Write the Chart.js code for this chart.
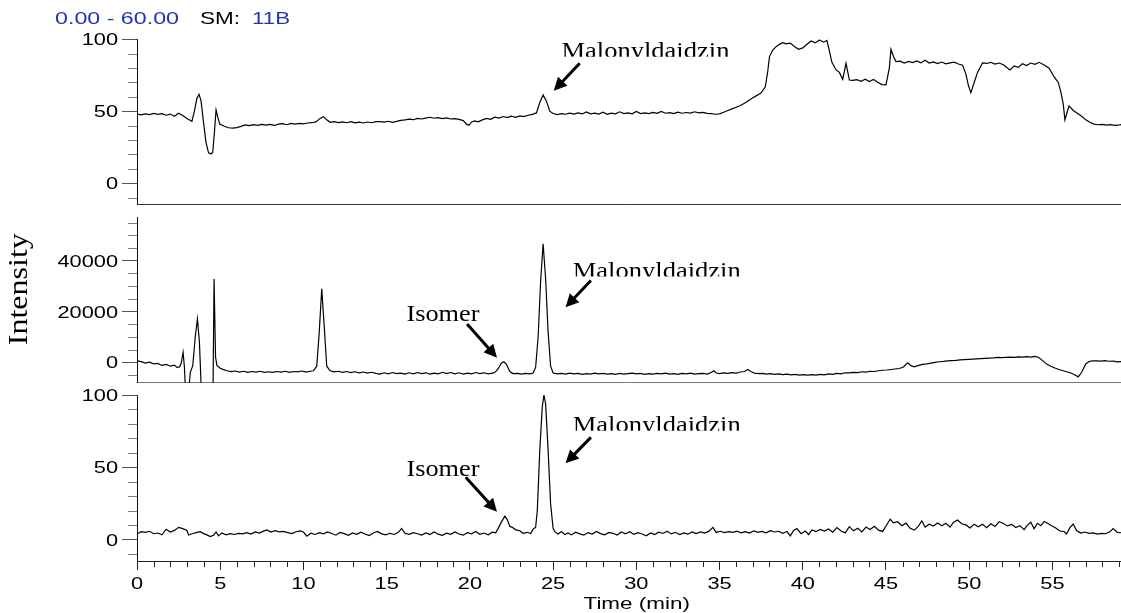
<!DOCTYPE html>
<html>
<head>
<meta charset="utf-8">
<title>Malonyldaidzin chromatograms</title>
<script src="https://cdn.jsdelivr.net/npm/chart.js@4.4.1/dist/chart.umd.min.js"></script>
<style>
  html, body { margin: 0; padding: 0; background: #fff; }
  #wrap { position: relative; width: 1121px; height: 613px; }
  #wrap canvas { position: absolute; left: 0; top: 0; }
</style>
</head>
<body>
<div id="wrap">
  <canvas id="top" width="1121" height="613"></canvas>
  <canvas id="mid" width="1121" height="613"></canvas>
  <canvas id="low" width="1121" height="613"></canvas>
</div>
<script>
// time (min), relative abundance - top trace (SM: 11B)
const upperTrace = [
  [0, 48], [0.25, 47.5], [0.5, 48.2], [0.75, 47.6], [1.0, 48.5], [1.25, 47.8], [1.5, 48.3], [1.75, 47.2], [2.0, 48], [2.25, 46.5],
  [2.5, 48.6], [2.75, 47], [3.0, 45], [3.3, 43], [3.45, 50], [3.6, 59], [3.73, 61.8], [3.85, 57], [4.0, 42], [4.15, 28],
  [4.3, 21], [4.45, 20.3], [4.55, 21.5], [4.65, 35], [4.75, 50.9], [4.85, 46], [4.97, 41], [5.25, 39.5], [5.5, 38.5], [5.75, 38.2],
  [6.0, 38.6], [6.25, 39.5], [6.5, 40.5], [6.75, 40], [7.0, 40.6], [7.25, 40.2], [7.5, 40.8], [7.75, 40.3], [8.0, 40.9], [8.25, 40.1],
  [8.5, 41], [8.75, 41.3], [9.0, 40.6], [9.25, 41.5], [9.5, 41], [9.75, 41.6], [10.0, 41.2], [10.25, 41.8], [10.5, 42], [10.75, 42.6],
  [11.0, 45], [11.2, 46.2], [11.4, 44], [11.6, 42.3], [11.85, 42.8], [12.1, 42.1], [12.35, 42.6], [12.6, 42], [12.85, 42.7], [13.1, 41.9],
  [13.35, 42.4], [13.6, 41.8], [13.85, 42.5], [14.1, 42], [14.35, 42.8], [14.6, 42.8], [14.85, 42.4], [15.1, 43], [15.35, 42.3], [15.6, 42.9],
  [15.85, 43.6], [16.1, 44], [16.35, 44.5], [16.6, 44.1], [16.85, 45], [17.1, 44.6], [17.35, 45.2], [17.6, 45.8], [17.85, 45.1], [18.1, 45.5],
  [18.35, 44.8], [18.6, 45.3], [18.85, 44.6], [19.1, 44.9], [19.35, 44.3], [19.6, 43.5], [19.8, 41], [19.95, 40.2], [20.1, 42.5], [20.3, 43.2],
  [20.5, 42.6], [20.75, 44], [21.0, 45], [21.25, 44.4], [21.5, 45.8], [21.75, 45.2], [22.0, 46.3], [22.25, 45.6], [22.5, 46.5], [22.75, 45.8],
  [23.0, 46.8], [23.25, 46.2], [23.5, 47.2], [23.75, 47.8], [24.0, 48.8], [24.2, 56], [24.4, 61.3], [24.6, 57], [24.8, 50], [25.0, 48.4],
  [25.25, 47.6], [25.5, 48.3], [25.75, 47.9], [26.0, 48.6], [26.25, 48], [26.5, 48.8], [26.75, 48.1], [27.0, 49.5], [27.25, 48.2], [27.5, 48.7],
  [27.75, 48], [28.0, 49.3], [28.25, 47.8], [28.5, 48.6], [28.75, 48.2], [29.0, 49.6], [29.25, 48.3], [29.5, 48.9], [29.75, 48.2], [30.0, 49.8],
  [30.25, 48.4], [30.5, 48.9], [30.75, 48.3], [31.0, 49.2], [31.25, 48.5], [31.5, 49.8], [31.75, 48.6], [32.0, 49], [32.25, 48.3], [32.5, 49.4],
  [32.75, 48.6], [33.0, 49.1], [33.25, 48.7], [33.5, 49.6], [33.75, 48.8], [34.0, 49.2], [34.25, 48.5], [34.5, 48.3], [34.75, 47.9], [35.0, 48.2],
  [35.25, 49.3], [35.5, 50.5], [35.75, 51.6], [36.0, 52.8], [36.25, 54], [36.5, 55.5], [36.75, 57.5], [37.0, 59.3], [37.25, 61], [37.5, 62.8],
  [37.75, 67], [37.9, 78], [38.0, 88], [38.2, 92.5], [38.4, 94.9], [38.6, 96.5], [38.8, 97.6], [39.0, 96.8], [39.25, 97.4], [39.5, 95],
  [39.75, 93], [40.0, 94], [40.25, 96.5], [40.5, 98.8], [40.75, 97.5], [41.0, 99.5], [41.25, 98], [41.45, 99.3], [41.6, 92], [41.75, 84],
  [42.0, 78.7], [42.2, 77], [42.4, 72.2], [42.6, 83.3], [42.8, 71.7], [43.0, 71.5], [43.25, 72], [43.5, 70.8], [43.75, 72.3], [44.0, 70.6],
  [44.25, 72.1], [44.5, 70.2], [44.75, 68.5], [45.0, 68.3], [45.2, 80], [45.3, 93], [45.45, 88], [45.6, 84.5], [45.85, 84.8], [46.1, 83.5],
  [46.35, 84.6], [46.6, 83.8], [46.85, 84.9], [47.1, 83.6], [47.35, 85.5], [47.6, 83.5], [47.85, 84.3], [48.1, 83.1], [48.35, 84.2], [48.6, 83],
  [48.85, 83.6], [49.1, 84.1], [49.35, 82.8], [49.6, 82], [49.8, 76], [49.95, 68], [50.1, 62.9], [50.3, 70], [50.5, 77], [50.8, 83.6],
  [51.05, 83.2], [51.3, 84], [51.55, 82.8], [51.8, 83.5], [52.05, 82.3], [52.3, 80], [52.45, 78.7], [52.7, 81.5], [52.95, 80.5], [53.2, 83],
  [53.45, 81.8], [53.7, 83.5], [53.95, 82.6], [54.2, 84], [54.45, 82.5], [54.8, 79.9], [55.1, 74], [55.35, 70], [55.5, 63.6], [55.65, 55],
  [55.75, 44], [55.9, 50], [56.0, 53.7], [56.25, 50.5], [56.5, 48.6], [56.75, 46.5], [57.0, 44], [57.25, 42.3], [57.5, 41], [57.75, 40.6],
  [58.0, 40.9], [58.25, 40.3], [58.5, 40.7], [58.75, 40.2], [59.05, 40.5], [59.3, 41]
];

// middle trace, absolute intensity (off-scale dips kept below the axis floor)
const middleTrace = [
  [0, 600], [0.25, 300], [0.5, -300], [0.75, 100], [1.0, -600], [1.25, -400], [1.5, -1200], [1.75, -800], [2.0, -1500], [2.25, -1100],
  [2.4, -2000], [2.55, -1800], [2.65, -500], [2.77, 3950], [2.85, -2000], [2.92, -12000], [3.1, -12000], [3.2, -4000], [3.35, -1300], [3.5, 10000],
  [3.63, 17100], [3.75, 8000], [3.87, -12000], [4.3, -15000], [4.57, -10000], [4.63, 32800], [4.72, 2000], [4.8, -1200], [5.0, -2300], [5.17, -2760],
  [5.4, -3300], [5.65, -3600], [5.9, -3400], [6.15, -3800], [6.4, -3500], [6.65, -3900], [6.9, -3600], [7.15, -3800], [7.4, -3500], [7.65, -3900],
  [7.9, -3700], [8.15, -3900], [8.4, -3600], [8.65, -3800], [8.9, -3500], [9.15, -3900], [9.4, -3600], [9.65, -3700], [9.9, -3400], [10.15, -3800],
  [10.4, -3500], [10.6, -3300], [10.8, -1500], [10.95, 12000], [11.1, 29000], [11.25, 14000], [11.4, -1500], [11.6, -3300], [11.85, -3700], [12.1, -3500],
  [12.35, -3900], [12.6, -3600], [12.85, -4000], [13.1, -3700], [13.35, -4100], [13.6, -3800], [13.85, -4200], [14.1, -3900], [14.35, -4300], [14.6, -4600],
  [14.85, -4100], [15.1, -4500], [15.35, -4000], [15.6, -4400], [15.85, -4200], [16.1, -4600], [16.35, -4100], [16.6, -4500], [16.85, -4000], [17.1, -4400],
  [17.35, -4100], [17.6, -4600], [17.85, -4200], [18.1, -4500], [18.35, -3900], [18.6, -4400], [18.85, -4000], [19.1, -4500], [19.35, -4100], [19.6, -4600],
  [19.85, -4200], [20.1, -4500], [20.35, -4000], [20.6, -4400], [20.85, -4100], [21.1, -4500], [21.35, -4200], [21.5, -4000], [21.7, -2500], [21.9, -200],
  [22.04, 240], [22.2, -800], [22.4, -3600], [22.6, -4400], [22.85, -4300], [23.1, -4600], [23.35, -4300], [23.6, -4500], [23.8, -4200], [23.95, -2000],
  [24.1, 10000], [24.25, 32000], [24.4, 46700], [24.55, 33000], [24.7, 12000], [24.85, -1500], [25.0, -4200], [25.25, -4500], [25.5, -4300], [25.75, -4600],
  [26.0, -4200], [26.25, -4500], [26.5, -4300], [26.75, -4700], [27.0, -4400], [27.25, -4600], [27.5, -4200], [27.75, -4500], [28.0, -4300], [28.25, -4600],
  [28.5, -4400], [28.75, -4700], [29.0, -4300], [29.25, -4600], [29.5, -4400], [29.75, -4200], [30.0, -4500], [30.25, -4300], [30.5, -4700], [30.75, -4400],
  [31.0, -4600], [31.25, -4300], [31.5, -4500], [31.75, -4200], [32.0, -4600], [32.25, -4400], [32.5, -4700], [32.75, -4300], [33.0, -4500], [33.25, -4200],
  [33.5, -4600], [33.75, -4400], [34.0, -4300], [34.25, -4600], [34.5, -4000], [34.65, -3300], [34.8, -4200], [35.0, -4400], [35.25, -4100], [35.5, -4300],
  [35.75, -4000], [36.0, -4200], [36.25, -3800], [36.5, -3600], [36.7, -2760], [36.9, -3700], [37.1, -4200], [37.35, -4400], [37.6, -4300], [37.8, -4600],
  [38.05, -4400], [38.3, -4700], [38.55, -4500], [38.8, -4800], [39.05, -4600], [39.3, -4900], [39.55, -4700], [39.8, -5000], [40.05, -4800], [40.3, -5000],
  [40.55, -4800], [40.8, -5000], [41.05, -4700], [41.3, -4900], [41.55, -4500], [41.8, -4700], [42.05, -4300], [42.3, -4500], [42.55, -4100], [42.8, -4100],
  [43.05, -3900], [43.3, -4000], [43.55, -3700], [43.8, -3800], [44.05, -3500], [44.3, -3600], [44.55, -3300], [44.8, -3100], [45.05, -3000], [45.3, -2800],
  [45.55, -2600], [45.8, -2400], [46.05, -1800], [46.3, -160], [46.5, -1300], [46.7, -1740], [46.95, -1200], [47.2, -800], [47.45, -600], [47.7, -300],
  [47.95, 0], [48.2, 240], [48.45, 400], [48.7, 600], [48.95, 700], [49.2, 800], [49.45, 1000], [49.7, 1100], [49.95, 1200], [50.2, 1300],
  [50.45, 1400], [50.7, 1500], [50.95, 1600], [51.2, 1700], [51.45, 1800], [51.7, 1950], [51.95, 1900], [52.2, 2000], [52.45, 2100], [52.7, 2000],
  [52.95, 2200], [53.2, 2100], [53.45, 2300], [53.7, 2100], [53.95, 2350], [54.15, 2000], [54.4, 800], [54.65, -670], [54.9, -1500], [55.15, -2200],
  [55.4, -2800], [55.65, -3300], [55.9, -3800], [56.1, -4200], [56.3, -4800], [56.55, -5700], [56.75, -4000], [57.0, -600], [57.2, 300], [57.4, 630],
  [57.65, 600], [57.9, 500], [58.15, 650], [58.4, 450], [58.65, 500], [58.9, 200], [59.3, 400]
];

// bottom trace, relative abundance
const lowerTrace = [
  [0, 4.1], [0.25, 5.8], [0.5, 5.2], [0.75, 6], [1.0, 4.3], [1.25, 4.8], [1.5, 3.6], [1.75, 7.4], [2.0, 5.5], [2.25, 6.6],
  [2.5, 8.7], [2.75, 7.8], [3.0, 6.5], [3.1, 3.4], [3.35, 4.5], [3.6, 5.2], [3.8, 5.7], [4.0, 4.4], [4.2, 3.5], [4.4, 2.3],
  [4.6, 3.3], [4.75, 5.5], [4.9, 2.8], [5.1, 4.9], [5.35, 3.6], [5.6, 4.4], [5.85, 3.8], [6.1, 4.6], [6.35, 4.2], [6.6, 5],
  [6.85, 4.1], [7.1, 5.5], [7.35, 4.8], [7.6, 6.1], [7.8, 6.9], [8.05, 5.4], [8.3, 6.4], [8.55, 5.6], [8.8, 5.9], [9.05, 5.1],
  [9.3, 4.4], [9.55, 5.7], [9.8, 6.3], [10.0, 5.5], [10.2, 2.6], [10.45, 4.7], [10.7, 3.8], [10.95, 5], [11.2, 4.2], [11.45, 5.6],
  [11.7, 4.5], [11.95, 3.3], [12.2, 5.2], [12.45, 4.4], [12.7, 3.2], [12.95, 4.9], [13.2, 3.9], [13.45, 5.4], [13.7, 4.1], [13.95, 3.1],
  [14.2, 4.8], [14.45, 5.9], [14.7, 4.2], [14.95, 3.5], [15.2, 4.6], [15.45, 3.8], [15.7, 5.3], [15.9, 8], [16.1, 4.6], [16.35, 3.9],
  [16.6, 5.1], [16.85, 4.3], [17.1, 3.4], [17.35, 4.9], [17.6, 3.7], [17.85, 5.5], [18.1, 4], [18.35, 3.2], [18.6, 4.7], [18.85, 3.9],
  [19.1, 5.6], [19.35, 4.1], [19.6, 3.3], [19.85, 5], [20.1, 4.2], [20.35, 5.8], [20.6, 3.9], [20.85, 4.8], [21.1, 3.6], [21.35, 5.4],
  [21.55, 5], [21.7, 8], [21.9, 12.5], [22.1, 16.5], [22.25, 14], [22.4, 9.5], [22.55, 8.7], [22.75, 7], [23.0, 6.4], [23.2, 4.6],
  [23.45, 5.3], [23.65, 4.4], [23.8, 7.5], [23.95, 8.7], [24.05, 20], [24.2, 62], [24.35, 92], [24.45, 100], [24.55, 94], [24.7, 62],
  [24.85, 25], [25.0, 8], [25.1, 5.7], [25.3, 4.1], [25.5, 5.8], [25.7, 3.7], [25.9, 4.9], [26.1, 3.5], [26.35, 5.4], [26.6, 4.2],
  [26.85, 3.3], [27.1, 5.1], [27.35, 4.1], [27.6, 5.9], [27.85, 4.4], [28.1, 3.6], [28.35, 5.2], [28.6, 4.6], [28.85, 3.4], [29.1, 5.5],
  [29.35, 4.3], [29.6, 5.7], [29.85, 3.9], [30.1, 5], [30.35, 4.1], [30.6, 2.9], [30.85, 4.8], [31.1, 3.7], [31.35, 5.4], [31.6, 4.5],
  [31.85, 6], [32.1, 4.2], [32.35, 5.3], [32.6, 3.8], [32.85, 4.9], [33.1, 4], [33.35, 5.6], [33.6, 4.4], [33.85, 5.5], [34.1, 4.7],
  [34.35, 5.9], [34.6, 8.7], [34.8, 5.2], [35.05, 6], [35.3, 5.1], [35.55, 5.8], [35.8, 5.2], [36.05, 6.1], [36.3, 4.9], [36.55, 5.7],
  [36.8, 4.8], [37.05, 6.2], [37.3, 5.3], [37.55, 5.9], [37.8, 4.9], [38.05, 6.4], [38.3, 5.5], [38.55, 6], [38.8, 4.6], [39.05, 5.8],
  [39.25, 2.8], [39.45, 6.5], [39.65, 7.9], [39.9, 4.3], [40.15, 6.2], [40.35, 3.8], [40.55, 6.9], [40.8, 5.8], [41.05, 7.3], [41.3, 6.1],
  [41.55, 7.6], [41.8, 5.4], [42.05, 8.5], [42.3, 6.2], [42.55, 4.9], [42.8, 9.2], [43.05, 6.3], [43.3, 8.1], [43.55, 5.6], [43.8, 8.9],
  [44.05, 7.2], [44.3, 9.4], [44.55, 6.8], [44.8, 5.9], [45.05, 10.5], [45.25, 14.3], [45.45, 11.8], [45.7, 12.6], [45.95, 9.8], [46.2, 11.6],
  [46.45, 8.1], [46.7, 6.8], [46.95, 9.5], [47.15, 13.2], [47.35, 8.9], [47.6, 10.9], [47.85, 9.6], [48.1, 11.7], [48.35, 9.8], [48.6, 11.5],
  [48.85, 8.9], [49.05, 12.1], [49.3, 13.8], [49.55, 11.2], [49.8, 10.4], [50.05, 8.3], [50.3, 10.9], [50.55, 9.1], [50.8, 10.8], [51.05, 8.5],
  [51.3, 11.2], [51.55, 9.3], [51.8, 12.6], [52.05, 11.4], [52.3, 9.7], [52.55, 10.8], [52.8, 8.6], [53.05, 9.9], [53.3, 7.1], [53.5, 10.3],
  [53.7, 12.2], [53.9, 7.8], [54.1, 11.5], [54.3, 9.9], [54.5, 12.8], [54.75, 11.2], [54.95, 9.8], [55.2, 8.2], [55.45, 6.2], [55.7, 5.8],
  [55.85, 4.1], [56.05, 8.5], [56.25, 11], [56.45, 6.5], [56.7, 4.8], [56.95, 5.5], [57.2, 4.6], [57.45, 4.9], [57.7, 4.1], [57.95, 4.6],
  [58.2, 4.3], [58.45, 5.6], [58.65, 7.8], [58.9, 5.2], [59.3, 4.8]
];

// axes
const timeTicks = [0, 5, 10, 15, 20, 25, 30, 35, 40, 45, 50, 55];
const timeMinor = [1, 2, 3, 4, 6, 7, 8, 9, 11, 12, 13, 14, 16, 17, 18, 19, 21, 22, 23, 24, 26, 27, 28, 29,
  31, 32, 33, 34, 36, 37, 38, 39, 41, 42, 43, 44, 46, 47, 48, 49, 51, 52, 53, 54, 56, 57, 58, 59];
const relTicks = [0, 50, 100];
const relMinor = [-10, 10, 20, 30, 40, 60, 70, 80, 90];
const absTicks = [0, 20000, 40000];
const absMinor = [-5000, 5000, 10000, 15000, 25000, 30000, 35000, 45000, 50000, 55000];

const BLUE = '#1f36b4';
const SANS = "'Liberation Sans', Arial, sans-serif";
const SERIF = "'Liberation Serif', 'Times New Roman', serif";

function drawText(ctx, str, x, y, font, color, sx, align) {
  ctx.save();
  ctx.font = font;
  ctx.fillStyle = color;
  ctx.textAlign = 'left';
  ctx.textBaseline = 'alphabetic';
  const w = ctx.measureText(str).width * sx;
  const left = align === 'right' ? x - w : align === 'center' ? x - w / 2 : x;
  ctx.translate(left, y);
  ctx.scale(sx, 1);
  ctx.fillText(str, 0, 0);
  ctx.restore();
}

function fitText(ctx, str, x, y, font, color, width) {
  ctx.save();
  ctx.font = font;
  const sx = width / ctx.measureText(str).width;
  ctx.restore();
  drawText(ctx, str, x, y, font, color, sx, 'left');
}

function arrow(ctx, x1, y1, x2, y2) {
  const ang = Math.atan2(y2 - y1, x2 - x1);
  const len = 13, half = 6.5;
  const bx = x2 - Math.cos(ang) * len, by = y2 - Math.sin(ang) * len;
  ctx.save();
  ctx.strokeStyle = '#000';
  ctx.fillStyle = '#000';
  ctx.lineWidth = 3;
  ctx.beginPath();
  ctx.moveTo(x1, y1);
  ctx.lineTo(bx + Math.cos(ang) * 2, by + Math.sin(ang) * 2);
  ctx.stroke();
  ctx.beginPath();
  ctx.moveTo(x2, y2);
  ctx.lineTo(bx - Math.sin(ang) * half, by + Math.cos(ang) * half);
  ctx.lineTo(bx + Math.sin(ang) * half, by - Math.cos(ang) * half);
  ctx.closePath();
  ctx.fill();
  ctx.restore();
}

const deco = {
  id: 'deco',
  afterDraw(chart, args, o) {
    const ctx = chart.ctx, xs = chart.scales.x, ys = chart.scales.y, a = chart.chartArea;

    // minor ticks on the intensity axis
    ctx.save();
    ctx.strokeStyle = '#7a7a7a';
    ctx.lineWidth = 1;
    o.minorY.forEach(v => {
      const y = Math.round(ys.getPixelForValue(v)) + 0.5;
      ctx.beginPath();
      ctx.moveTo(a.left - 9, y);
      ctx.lineTo(a.left, y);
      ctx.stroke();
    });
    ctx.restore();

    // intensity labels
    o.majorY.forEach(v => {
      drawText(ctx, String(v), a.left - 19, ys.getPixelForValue(v) + 6, '16.5px ' + SANS, '#000', 1.32, 'right');
    });

    if (o.timeAxis) {
      ctx.save();
      ctx.strokeStyle = '#222';
      ctx.lineWidth = 1;
      timeMinor.forEach(t => {
        const x = Math.round(xs.getPixelForValue(t)) + 0.5;
        ctx.beginPath();
        ctx.moveTo(x, a.bottom);
        ctx.lineTo(x, a.bottom + 6);
        ctx.stroke();
      });
      ctx.restore();
      timeTicks.forEach(t => {
        drawText(ctx, String(t), xs.getPixelForValue(t), a.bottom + 27.5, '16.5px ' + SANS, '#000', 1.32, 'center');
      });
      drawText(ctx, 'Time (min)', 636.7, 609, '17px ' + SANS, '#000', 1.32, 'center');
    }

    if (o.header) {
      fitText(ctx, '0.00 - 60.00', 55, 24.3, '16.5px ' + SANS, BLUE, 124);
      fitText(ctx, 'SM:', 200, 24.3, '16.5px ' + SANS, '#000', 40);
      fitText(ctx, '11B', 252, 24.3, '16.5px ' + SANS, BLUE, 38);
    }

    if (o.yTitle) {
      ctx.save();
      ctx.font = '28px ' + SERIF;
      const w = ctx.measureText('Intensity').width;
      ctx.translate(26.8, 289.2);
      ctx.rotate(-Math.PI / 2);
      ctx.scale(112 / w, 1);
      ctx.fillStyle = '#000';
      ctx.textAlign = 'center';
      ctx.textBaseline = 'alphabetic';
      ctx.fillText('Intensity', 0, 0);
      ctx.restore();
    }

    (o.notes || []).forEach(n => {
      const x = xs.getPixelForValue(n.t);
      const y = ys.getPixelForValue(n.base);
      ctx.save();
      if (n.clip !== undefined) {
        const cy = ys.getPixelForValue(n.clip);
        ctx.beginPath();
        ctx.rect(x - 10, cy - 60, n.width + 20, 60);
        ctx.clip();
      }
      fitText(ctx, n.text, x, y, '24px ' + SERIF, '#000', n.width);
      ctx.restore();
      arrow(ctx, xs.getPixelForValue(n.from[0]), ys.getPixelForValue(n.from[1]),
        xs.getPixelForValue(n.to[0]), ys.getPixelForValue(n.to[1]));
    });
  }
};

function panel(id, trace, cfg) {
  return new Chart(document.getElementById(id), {
    type: 'line',
    data: {
      datasets: [{
        data: trace.map(p => ({ x: p[0], y: p[1] })),
        borderColor: '#000',
        borderWidth: 1.2,
        pointRadius: 0,
        tension: 0,
        fill: false
      }]
    },
    options: {
      responsive: false,
      animation: false,
      devicePixelRatio: 1,
      layout: { padding: { top: cfg.top, bottom: cfg.bottom, left: 0, right: 0 } },
      plugins: {
        legend: { display: false },
        tooltip: { enabled: false },
        deco: cfg.deco
      },
      scales: {
        x: {
          type: 'linear',
          min: 0,
          max: 59.12,
          afterBuildTicks: s => { s.ticks = timeTicks.map(v => ({ value: v })); },
          afterFit: s => { s.height = cfg.xHeight; },
          ticks: { display: false },
          grid: {
            drawOnChartArea: false,
            drawTicks: cfg.xHeight > 0,
            tickLength: 9,
            tickColor: '#222'
          },
          border: { display: true, color: cfg.baseColor, width: 1 }
        },
        y: {
          type: 'linear',
          min: cfg.min,
          max: cfg.max,
          afterBuildTicks: s => { s.ticks = cfg.deco.majorY.map(v => ({ value: v })); },
          afterFit: s => { s.width = 137; },
          ticks: { display: false },
          grid: {
            drawOnChartArea: false,
            drawTicks: true,
            tickLength: 15,
            tickColor: '#555'
          },
          border: { display: true, color: '#111', width: 1 }
        }
      }
    },
    plugins: [deco]
  });
}

panel('top', upperTrace, {
  top: 39.3, bottom: 408.3, xHeight: 0, min: -15, max: 100, baseColor: '#333',
  deco: {
    majorY: relTicks, minorY: relMinor, header: true,
    notes: [
      { text: 'Malonyldaidzin', t: 25.5, base: 87.2, clip: 87.9, width: 168, from: [26.6, 83.3], to: [25.04, 64.3] }
    ]
  }
});

panel('mid', middleTrace, {
  top: 217.3, bottom: 230.3, xHeight: 0, min: -8000, max: 57100, baseColor: '#777',
  deco: {
    majorY: absTicks, minorY: absMinor, yTitle: true,
    notes: [
      { text: 'Malonyldaidzin', t: 26.18, base: 33400, clip: 33800, width: 168, from: [27.27, 32220], to: [25.75, 21720] },
      { text: 'Isomer', t: 16.19, base: 16430, width: 73, from: [19.83, 15120], to: [21.63, 1820] }
    ]
  }
});

panel('low', lowerTrace, {
  top: 395, bottom: 12, xHeight: 40, min: -14.5, max: 100, baseColor: '#222',
  deco: {
    majorY: relTicks, minorY: relMinor, timeAxis: true,
    notes: [
      { text: 'Malonyldaidzin', t: 26.18, base: 74.7, clip: 75.4, width: 168, from: [27.27, 70.8], to: [25.75, 52.9] },
      { text: 'Isomer', t: 16.19, base: 43.8, width: 73, from: [19.75, 43.2], to: [21.63, 19.5] }
    ]
  }
});
</script>
</body>
</html>
